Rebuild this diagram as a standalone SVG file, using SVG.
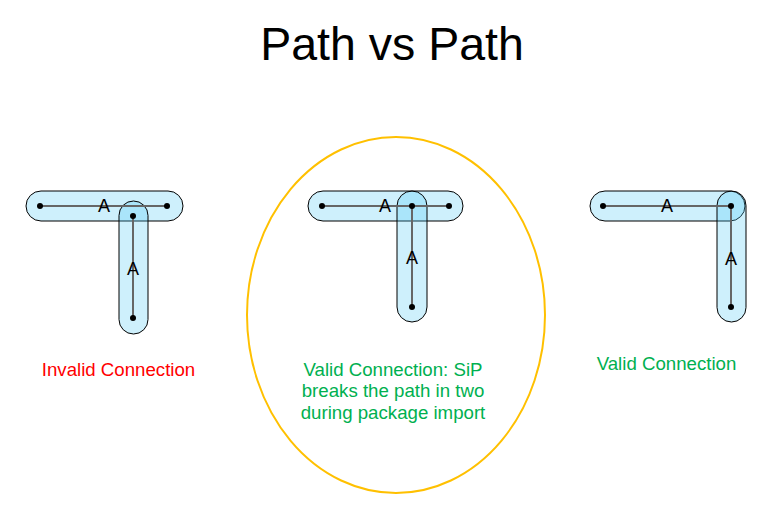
<svg xmlns="http://www.w3.org/2000/svg" width="765" height="509" viewBox="0 0 765 509">
<style>
.cap{fill:#4fc8f5;fill-opacity:0.28;stroke:#000;stroke-width:1}
.ln{stroke:#666;stroke-width:2;fill:none}
.dot{fill:#000}
.lbl{font-family:"Liberation Sans",Arial,sans-serif;font-size:18px;fill:#000;text-anchor:middle}
.t{font-family:"Liberation Sans",Arial,sans-serif;font-size:18.67px;text-anchor:middle}
</style>
<rect width="765" height="509" fill="#fff"/>
<text x="392" y="60" font-family="Liberation Sans, Arial, sans-serif" font-size="46.5" text-anchor="middle" fill="#000">Path vs Path</text>

<g id="ellipse">
<ellipse cx="396" cy="315" rx="149" ry="178" fill="none" stroke="#FFC000" stroke-width="2"/>
</g>

<g id="left-h"><rect class="cap" x="26" y="191" width="157" height="30" rx="15"/></g>
<g id="left-v"><rect class="cap" x="119" y="201" width="29" height="133" rx="14.5"/></g>
<g id="mid-h"><rect class="cap" x="308" y="191" width="155" height="30" rx="15"/></g>
<g id="mid-v"><rect class="cap" x="397" y="191" width="30" height="131" rx="15"/></g>
<g id="right-h"><rect class="cap" x="590" y="191" width="155" height="30" rx="15"/></g>
<g id="right-v"><rect class="cap" x="717" y="191" width="29" height="131" rx="14.5"/></g>

<g id="connectors">
<line class="ln" x1="40" y1="206" x2="167" y2="206"/>
<line class="ln" x1="133" y1="216" x2="133" y2="318"/>
<line class="ln" x1="322" y1="206" x2="449" y2="206"/>
<line class="ln" x1="412" y1="206" x2="412" y2="307"/>
<line class="ln" x1="603" y1="206" x2="731" y2="206"/>
<line class="ln" x1="731" y1="206" x2="731" y2="307"/>
<circle class="dot" cx="40" cy="206" r="3"/>
<circle class="dot" cx="167" cy="206" r="3"/>
<circle class="dot" cx="133" cy="216" r="3"/>
<circle class="dot" cx="133" cy="318" r="3"/>
<circle class="dot" cx="322" cy="206" r="3"/>
<circle class="dot" cx="449" cy="206" r="3"/>
<circle class="dot" cx="412" cy="206" r="3"/>
<circle class="dot" cx="412" cy="307" r="3"/>
<circle class="dot" cx="603" cy="206" r="3"/>
<circle class="dot" cx="731" cy="206" r="3"/>
<circle class="dot" cx="731" cy="307" r="3"/>
<text class="lbl" x="104" y="212">A</text>
<text class="lbl" x="133" y="275">A</text>
<text class="lbl" x="385" y="212">A</text>
<text class="lbl" x="412" y="264">A</text>
<text class="lbl" x="667" y="212">A</text>
<text class="lbl" x="731" y="265">A</text>
</g>

<g id="labels">
<text class="t" x="118.5" y="376" fill="#FF0000">Invalid Connection</text>
<text class="t" x="393" y="376" fill="#00B050">Valid Connection: SiP</text>
<text class="t" x="393" y="397" fill="#00B050">breaks the path in two</text>
<text class="t" x="393" y="418.5" fill="#00B050">during package import</text>
<text class="t" x="666.5" y="370" fill="#00B050">Valid Connection</text>
</g>
</svg>
